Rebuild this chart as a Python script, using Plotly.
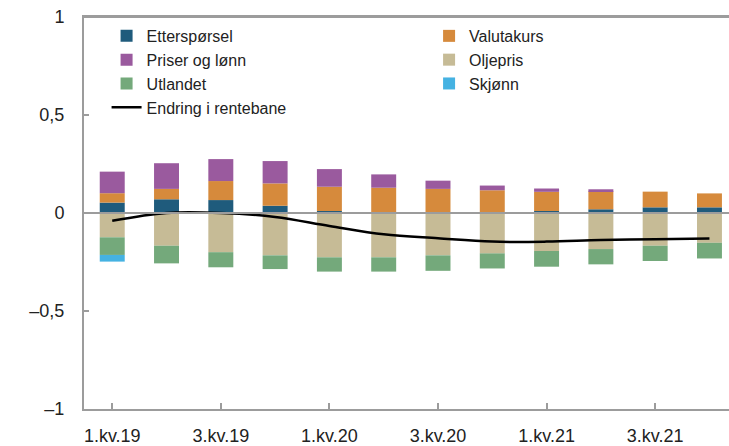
import plotly.graph_objects as go

categories = ["1.kv.19", "2.kv.19", "3.kv.19", "4.kv.19",
              "1.kv.20", "2.kv.20", "3.kv.20", "4.kv.20",
              "1.kv.21", "2.kv.21", "3.kv.21", "4.kv.21"]
tick_labels = ["1.kv.19", "3.kv.19", "1.kv.20", "3.kv.20", "1.kv.21", "3.kv.21"]

ettersporsel = [0.053, 0.070, 0.066, 0.037, 0.010, 0.003, 0.002, 0.002, 0.010, 0.019, 0.029, 0.029]
valutakurs   = [0.048, 0.053, 0.097, 0.114, 0.124, 0.126, 0.121, 0.114, 0.098, 0.092, 0.080, 0.071]
priser_lonn  = [0.110, 0.131, 0.112, 0.114, 0.090, 0.068, 0.042, 0.024, 0.017, 0.010, 0.000, 0.000]
oljepris     = [-0.124, -0.167, -0.200, -0.216, -0.226, -0.226, -0.216, -0.206, -0.194, -0.184, -0.167, -0.152]
utlandet     = [-0.090, -0.090, -0.077, -0.070, -0.073, -0.073, -0.079, -0.077, -0.080, -0.078, -0.078, -0.080]
skjonn       = [-0.034, 0, 0, 0, 0, 0, 0, 0, 0, 0, 0, 0]
rentebane    = [-0.040, 0.000, 0.000, -0.020, -0.066, -0.109, -0.129, -0.146, -0.146, -0.138, -0.134, -0.130]

y_tickvals = [-1, -0.5, 0, 0.5, 1]
y_ticktext = ["\u20131", "\u20130,5", "0", "0,5", "1"]

# (name, values, colour, legend column)
series = [
    ("Etterspørsel", ettersporsel, "#1f5b7c", "legend"),
    ("Valutakurs", valutakurs, "#d68a3c", "legend2"),
    ("Priser og lønn", priser_lonn, "#9a5a9e", "legend"),
    ("Oljepris", oljepris, "#c6bb96", "legend2"),
    ("Utlandet", utlandet, "#74a97b", "legend"),
    ("Skjønn", skjonn, "#45b2e2", "legend2"),
]

fig = go.Figure()
for name, vals, col, leg in series:
    fig.add_trace(go.Bar(x=categories, y=vals, name=name, marker_color=col,
                         marker_line_width=0, width=0.46, legend=leg))
fig.add_trace(go.Scatter(x=categories, y=rentebane, name="Endring i rentebane",
                         mode="lines", line=dict(color="black", width=2.5, shape="spline"),
                         legend="legend"))

axis_col = "#9c9c9c"
leg_common = dict(orientation="v", xanchor="left", yanchor="top", font=dict(size=16),
                  bgcolor="rgba(0,0,0,0)", tracegroupgap=0, traceorder="normal")
fig.update_layout(
    width=729, height=446,
    margin=dict(l=84, r=0, t=17, b=37),
    barmode="relative",
    plot_bgcolor="white", paper_bgcolor="white",
    font=dict(family="Liberation Sans, Arial, sans-serif", color="#222222"),
    legend=dict(x=0.035, y=0.995, **leg_common),
    legend2=dict(x=0.535, y=0.995, **leg_common),
    xaxis=dict(range=[-0.52, 11.36], tickmode="array", tickvals=tick_labels, ticktext=tick_labels,
               ticks="inside", ticklen=6, tickcolor=axis_col, tickwidth=1.5,
               showline=True, linecolor=axis_col, linewidth=2, mirror=True,
               showgrid=False, tickfont=dict(size=18), ticklabelstandoff=9),
    yaxis=dict(range=[-1, 1], tickmode="array", tickvals=y_tickvals, ticktext=y_ticktext,
               ticks="inside", ticklen=5, tickcolor=axis_col, tickwidth=1.5,
               showline=True, linecolor=axis_col, linewidth=2,
               showgrid=False, zeroline=False, tickfont=dict(size=18), ticklabelstandoff=14,
               ticklabeloverflow="allow"),
    shapes=[dict(type="line", xref="paper", x0=0, x1=1, yref="y", y0=0, y1=0,
                 line=dict(color=axis_col, width=2), layer="above"),
            dict(type="line", xref="paper", x0=0, x1=1, yref="paper", y0=1, y1=1,
                 line=dict(color=axis_col, width=2), layer="above")],
)

fig.write_html("out.html",
               config={"displayModeBar": False},
               post_script="document.documentElement.style.overflow='hidden';"
                           "document.body.style.margin='0';"
                           "document.body.style.overflow='hidden';")
